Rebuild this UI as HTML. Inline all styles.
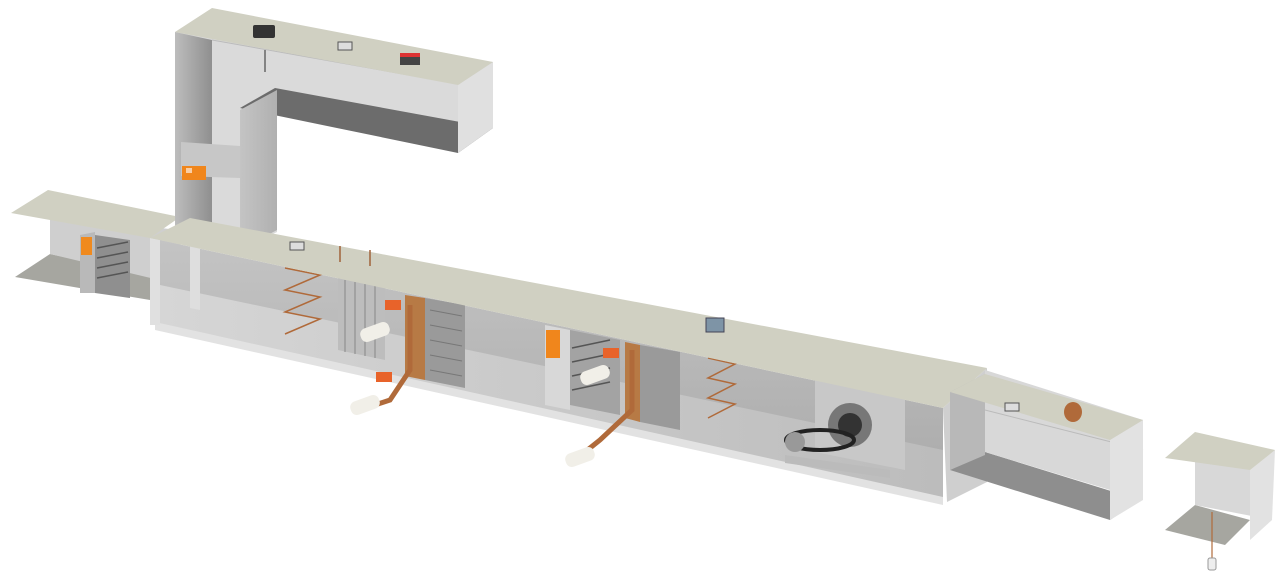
<!DOCTYPE html>
<html><head><meta charset="utf-8"><style>
html,body{margin:0;padding:0;background:#fff;width:1288px;height:583px;overflow:hidden}
svg{display:block}
</style></head><body>
<svg width="1288" height="583" viewBox="0 0 1288 583" xmlns="http://www.w3.org/2000/svg">
<defs>
<linearGradient id="wall" x1="0" y1="0" x2="0" y2="1"><stop offset="0" stop-color="#c4c4c4"/><stop offset="1" stop-color="#a9a9a9"/></linearGradient>
<linearGradient id="floor" x1="0" y1="0" x2="1" y2="0"><stop offset="0" stop-color="#d6d6d6"/><stop offset="1" stop-color="#bcbcbc"/></linearGradient>
<linearGradient id="riserL" x1="0" y1="0" x2="1" y2="0"><stop offset="0" stop-color="#bdbdbd"/><stop offset="1" stop-color="#8f8f8f"/></linearGradient>
<linearGradient id="panel" x1="0" y1="0" x2="1" y2="0"><stop offset="0" stop-color="#c4c4c4"/><stop offset="1" stop-color="#b0b0b0"/></linearGradient>
</defs>

<!-- left small duct -->
<polygon points="15,277 50,254 180,282 150,300" fill="#a6a6a0"/>
<polygon points="50,217 180,230 180,285 50,254" fill="#cfcfcf"/>
<polygon points="80,235 95,232 95,293 80,293" fill="#b9b9b9"/>
<polygon points="95,235 130,240 130,298 95,293" fill="#8f8f8f"/>
<g stroke="#555" stroke-width="1.5"><line x1="97" y1="248" x2="128" y2="242"/><line x1="97" y1="258" x2="128" y2="252"/><line x1="97" y1="268" x2="128" y2="262"/><line x1="97" y1="278" x2="128" y2="272"/></g>
<rect x="81" y="237" width="11" height="18" fill="#f08a1e"/>
<polygon points="11,213 48,190 180,217 150,238" fill="#d0d0c2"/>

<!-- riser & top duct -->
<polygon points="175,32 493,62 493,128 277,90 277,232 240,250 175,235" fill="#dadada"/>
<line x1="212" y1="40" x2="493" y2="90" stroke="#bbb" stroke-width="1"/>
<polygon points="175,32 212,40 212,235 175,240" fill="url(#riserL)"/>
<polygon points="181,142 240,146 240,178 181,176" fill="#c7c7c7"/>
<rect x="182" y="166" width="24" height="14" fill="#f0861c"/>
<rect x="186" y="168" width="6" height="5" fill="#fff" opacity=".6"/>
<polygon points="240,108 275,88 493,128 458,153" fill="#6c6c6c"/>
<polygon points="240,110 277,90 277,230 240,250" fill="url(#panel)"/>
<polygon points="458,85 493,62 493,128 458,153" fill="#e0e0e0"/>
<polygon points="175,32 212,8 493,62 458,85" fill="#d0d0c2"/>
<rect x="253" y="25" width="22" height="13" rx="2" fill="#333"/>
<rect x="338" y="42" width="14" height="8" fill="#ddd" stroke="#555" stroke-width="1"/>
<rect x="400" y="53" width="20" height="12" fill="#444"/><rect x="400" y="53" width="20" height="4" fill="#d33"/>
<line x1="265" y1="50" x2="265" y2="72" stroke="#666" stroke-width="1.5"/>

<!-- main body -->
<polygon points="150,238 943,408 943,500 155,325" fill="url(#wall)"/>
<polygon points="160,285 943,450 943,500 155,325" fill="url(#floor)"/>
<polygon points="155,322 943,497 943,505 155,330" fill="#e2e2e2"/>
<polygon points="150,238 160,240 160,325 150,325" fill="#e0e0e0"/>
<polygon points="190,240 200,242 200,310 190,308" fill="#dedede"/>
<!-- filter section 1 -->
<polygon points="338,278 385,288 385,360 338,350" fill="#bdbdbd"/>
<g stroke="#888" stroke-width="1"><line x1="345" y1="280" x2="345" y2="352"/><line x1="355" y1="282" x2="355" y2="354"/><line x1="365" y1="284" x2="365" y2="356"/><line x1="375" y1="286" x2="375" y2="358"/></g>
<polygon points="405,295 425,298 425,380 405,376" fill="#b77a45"/>
<polygon points="425,298 465,305 465,388 425,380" fill="#9a9a9a"/>
<g stroke="#777" stroke-width="1"><line x1="430" y1="310" x2="462" y2="316"/><line x1="430" y1="325" x2="462" y2="331"/><line x1="430" y1="340" x2="462" y2="346"/><line x1="430" y1="355" x2="462" y2="361"/><line x1="430" y1="370" x2="462" y2="376"/></g>
<!-- section 2 -->
<polygon points="545,325 570,330 570,410 545,405" fill="#d8d8d8"/>
<rect x="546" y="330" width="14" height="28" fill="#f0861c"/>
<polygon points="570,330 620,340 620,415 570,405" fill="#a3a3a3"/>
<g stroke="#555" stroke-width="1.5"><line x1="572" y1="348" x2="610" y2="340"/><line x1="572" y1="362" x2="610" y2="354"/><line x1="572" y1="376" x2="610" y2="368"/><line x1="572" y1="390" x2="610" y2="382"/></g>
<polygon points="625,342 640,345 640,422 625,418" fill="#b77a45"/>
<polygon points="640,345 680,352 680,430 640,422" fill="#9a9a9a"/>
<!-- heater coil wires -->
<g fill="none" stroke="#b06a3a" stroke-width="1.5">
<polyline points="285,268 320,275 285,290 320,297 285,312 320,319 285,334"/>
<polyline points="708,358 735,364 708,378 735,384 708,398 735,404 708,418"/>
</g>
<!-- fan -->
<polygon points="815,380 905,398 905,470 815,452" fill="#c8c8c8"/>
<circle cx="850" cy="425" r="22" fill="#777"/><circle cx="850" cy="425" r="12" fill="#333"/>
<polygon points="785,455 890,470 890,478 785,463" fill="#bbb"/>
<ellipse cx="820" cy="440" rx="34" ry="10" fill="none" stroke="#222" stroke-width="4"/>
<circle cx="795" cy="442" r="10" fill="#999"/>
<!-- main end face & plate -->
<polygon points="943,408 987,368 987,482 947,502" fill="#cfcfcf"/>
<polygon points="150,238 190,218 987,368 943,408" fill="#d0d0c2"/>
<rect x="290" y="242" width="14" height="8" fill="#ddd" stroke="#555" stroke-width="1"/>
<line x1="340" y1="246" x2="340" y2="262" stroke="#a0623a" stroke-width="1.5"/>
<line x1="370" y1="250" x2="370" y2="266" stroke="#a0623a" stroke-width="1.5"/>
<rect x="706" y="318" width="18" height="14" fill="#7e94a6" stroke="#445" stroke-width="1"/>
<!-- valves & pipes -->
<g stroke="#b06a3a" stroke-width="5" fill="none"><polyline points="410,305 410,370 390,400 360,410"/><polyline points="632,350 632,410 600,440 575,460"/></g>
<rect x="360" y="325" width="30" height="14" rx="6" fill="#f1efe8" transform="rotate(-20 375 332)"/>
<rect x="350" y="398" width="30" height="14" rx="6" fill="#f1efe8" transform="rotate(-20 365 405)"/>
<rect x="580" y="368" width="30" height="14" rx="6" fill="#f1efe8" transform="rotate(-20 595 375)"/>
<rect x="565" y="450" width="30" height="14" rx="6" fill="#f1efe8" transform="rotate(-20 580 457)"/>
<rect x="385" y="300" width="16" height="10" fill="#e8632a"/>
<rect x="376" y="372" width="16" height="10" fill="#e8632a"/>
<rect x="603" y="348" width="16" height="10" fill="#e8632a"/>

<!-- right duct -->
<polygon points="950,470 985,452 1140,500 1110,520" fill="#8e8e8e"/>
<polygon points="985,370 1143,420 1143,500 985,452" fill="#d8d8d8"/>
<line x1="985" y1="410" x2="1143" y2="450" stroke="#bbb"/>
<polygon points="950,392 985,374 985,455 950,470" fill="#b8b8b8"/>
<polygon points="1110,440 1143,420 1143,500 1110,520" fill="#e2e2e2"/>
<polygon points="950,392 985,374 1143,420 1110,440" fill="#d0d0c2"/>
<rect x="1005" y="403" width="14" height="8" fill="#ddd" stroke="#555" stroke-width="1"/>
<ellipse cx="1073" cy="412" rx="9" ry="10" fill="#b06a3a"/>

<!-- far right piece -->
<polygon points="1165,530 1195,505 1250,520 1225,545" fill="#a6a6a0"/>
<polygon points="1195,445 1272,462 1272,520 1195,505" fill="#d8d8d8"/>
<polygon points="1250,468 1275,450 1272,520 1250,540" fill="#e2e2e2"/>
<polygon points="1165,458 1195,432 1275,450 1250,470" fill="#d0d0c2"/>
<line x1="1212" y1="512" x2="1212" y2="560" stroke="#b06a3a" stroke-width="1.2"/>
<rect x="1208" y="558" width="8" height="12" rx="2" fill="#eee" stroke="#999"/>
</svg>
</body></html>
